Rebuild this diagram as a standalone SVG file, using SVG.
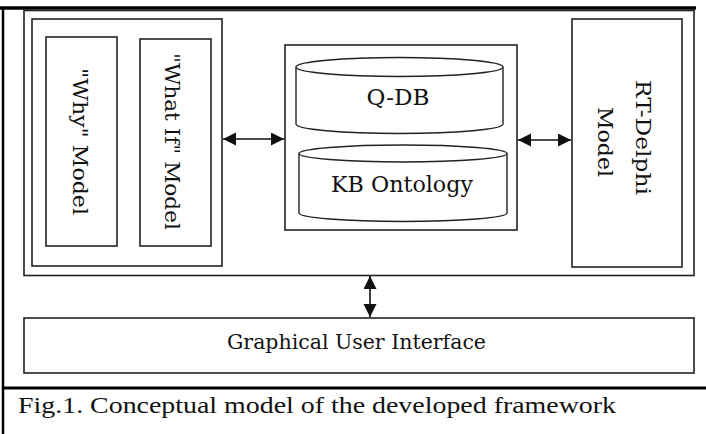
<svg xmlns="http://www.w3.org/2000/svg" width="706" height="434" viewBox="0 0 706 434">
<style>
.box{fill:none;stroke:#222;stroke-width:1.6}
.cyl{fill:#fff;stroke:#222;stroke-width:1.4}
.lbl{font-family:"DejaVu Serif","Liberation Serif",serif;fill:#111}
.conn{stroke:#111;stroke-width:1.6;fill:none}
</style>
<defs>
<marker id="ah" markerUnits="userSpaceOnUse" markerWidth="14" markerHeight="14" refX="13" refY="6.5" orient="auto-start-reverse">
<path d="M0,0 L13,6.5 L0,13 Z" fill="#111"/>
</marker>
</defs>
<rect width="706" height="434" fill="#fff"/>
<g id="table">
<line x1="0" y1="8" x2="696" y2="8" stroke="#000" stroke-width="3.5"/>
<line x1="3" y1="7" x2="3" y2="434" stroke="#000" stroke-width="2.5"/>
<line x1="3" y1="388" x2="706" y2="388" stroke="#000" stroke-width="3"/>
</g>
<g id="frame"><rect class="box" x="24" y="10.5" width="670" height="265"/></g>
<g id="left-group"><rect class="box" x="32" y="19" width="190" height="247"/></g>
<g id="why">
<rect class="box" x="46" y="37" width="71" height="209"/>
<text class="lbl" font-size="21" text-anchor="middle" textLength="147" lengthAdjust="spacingAndGlyphs" transform="translate(72.5,141.5) rotate(90)">"Why" Model</text>
</g>
<g id="whatif">
<rect class="box" x="140" y="39" width="71" height="207"/>
<text class="lbl" font-size="21" text-anchor="middle" textLength="177" lengthAdjust="spacingAndGlyphs" transform="translate(164.5,141.5) rotate(90)">"What If" Model</text>
</g>
<g id="center">
<rect class="box" x="285" y="45" width="232" height="185"/>
</g>
<g id="qdb">
<path class="cyl" d="M296,67 L296,124 A103.5,9.5 0 0 0 503,124 L503,67"/>
<ellipse class="cyl" cx="399.5" cy="67" rx="103.5" ry="9.5"/>
<text class="lbl" font-size="22" text-anchor="middle" x="398" y="105" textLength="63" lengthAdjust="spacingAndGlyphs">Q-DB</text>
</g>
<g id="kb">
<path class="cyl" d="M299,153.5 L299,213 A104,8.5 0 0 0 507,213 L507,153.5"/>
<ellipse class="cyl" cx="403" cy="153.5" rx="104" ry="8.5"/>
<text class="lbl" font-size="22" text-anchor="middle" x="402" y="191.5" textLength="142" lengthAdjust="spacingAndGlyphs">KB Ontology</text>
</g>
<g id="rtdelphi">
<rect class="box" x="572" y="19" width="110" height="248"/>
<text class="lbl" font-size="21" text-anchor="middle" textLength="115" lengthAdjust="spacingAndGlyphs" transform="translate(636,137.5) rotate(90)">RT-Delphi</text>
<text class="lbl" font-size="21" text-anchor="middle" textLength="70" lengthAdjust="spacingAndGlyphs" transform="translate(598,142) rotate(90)">Model</text>
</g>
<g id="gui">
<rect class="box" x="24" y="318" width="670" height="55"/>
<text class="lbl" font-size="20" text-anchor="middle" x="356.5" y="349" textLength="259" lengthAdjust="spacingAndGlyphs">Graphical User Interface</text>
</g>
<g id="connectors">
<line class="conn" x1="223" y1="139" x2="284" y2="139" marker-start="url(#ah)" marker-end="url(#ah)"/>
<line class="conn" x1="518" y1="140" x2="571" y2="140" marker-start="url(#ah)" marker-end="url(#ah)"/>
<line class="conn" x1="370" y1="276" x2="370" y2="317" marker-start="url(#ah)" marker-end="url(#ah)"/>
</g>
<g id="caption">
<text font-family="'Liberation Serif','Times New Roman',serif" font-size="24" fill="#111" x="18" y="413" textLength="598" lengthAdjust="spacingAndGlyphs">Fig.1. Conceptual model of the developed framework</text>
</g>
</svg>
